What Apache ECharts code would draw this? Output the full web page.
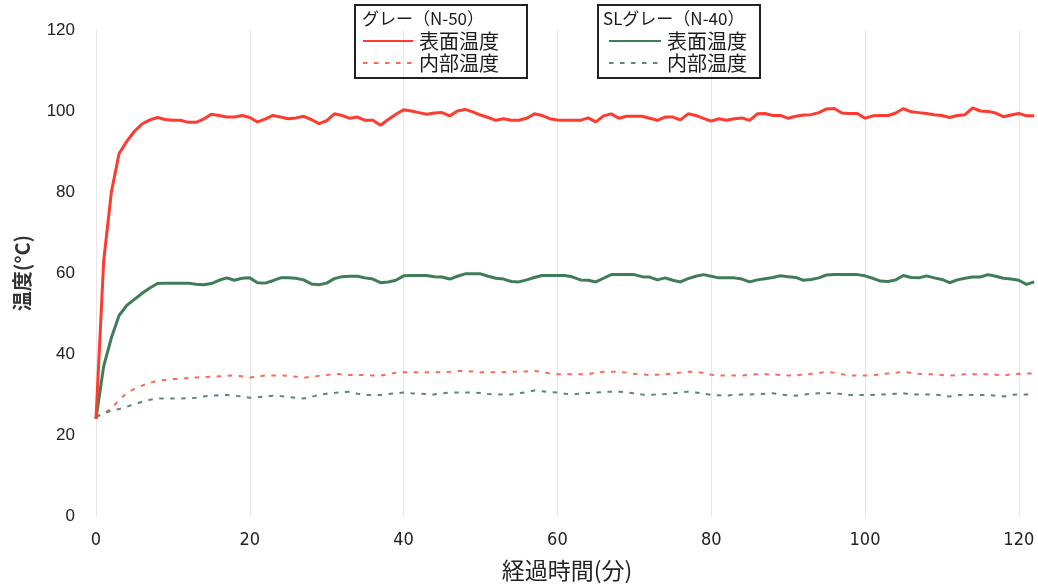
<!DOCTYPE html>
<html>
<head>
<meta charset="utf-8">
<script src="https://cdn.jsdelivr.net/npm/echarts@6/dist/echarts.min.js"></script>
<style>
html,body{margin:0;padding:0;background:#fff;}
#chart{width:1038px;height:586px;}
</style>
</head>
<body>
<div id="chart"></div>
<script>
// Elapsed time (minutes) sampled every minute
const minutes = Array.from({length: 123}, (_, i) => i);

const xTicks = [0, 20, 40, 60, 80, 100, 120];
const yTicks = [0, 20, 40, 60, 80, 100, 120];

// グレー(N-50) 表面温度
const grayN50Surface = [
  24, 63, 80, 89.5, 92.5, 95, 96.8, 97.8, 98.4, 97.9,
  97.7, 97.7, 97.2, 97.2, 98.0, 99.2, 98.9, 98.5, 98.5, 98.9,
  98.4, 97.3, 98.0, 98.9, 98.5, 98.1, 98.3, 98.7, 97.9, 96.9,
  97.6, 99.3, 98.9, 98.2, 98.5, 97.7, 97.7, 96.5, 97.9, 99.2,
  100.3, 100.0, 99.6, 99.2, 99.5, 99.6, 98.8, 100.0, 100.4, 99.8,
  99.0, 98.4, 97.7, 98.1, 97.7, 97.7, 98.2, 99.3, 98.9, 98.1,
  97.8, 97.7, 97.7, 97.7, 98.3, 97.3, 98.8, 99.3, 98.2, 98.7,
  98.7, 98.7, 98.2, 97.7, 98.5, 98.5, 97.8, 99.3, 98.9, 98.2,
  97.5, 98.1, 97.7, 98.1, 98.3, 97.7, 99.3, 99.4, 98.9, 98.9,
  98.2, 98.7, 99.0, 99.1, 99.6, 100.5, 100.6, 99.5, 99.4, 99.4,
  98.2, 98.8, 98.9, 98.9, 99.5, 100.6, 99.8, 99.6, 99.4, 99.1,
  98.9, 98.4, 98.9, 99.1, 100.8, 100.0, 99.9, 99.5, 98.6, 99.0,
  99.4, 98.8, 98.8
];

// グレー(N-50) 内部温度
const grayN50Inner = [
  24.5, 25.3, 26.5, 28.7, 30.3, 31.4, 32.2, 32.9, 33.4, 33.6,
  33.8, 33.9, 34.1, 34.2, 34.3, 34.4, 34.5, 34.6, 34.7, 34.5,
  34.2, 34.4, 34.7, 34.7, 34.7, 34.6, 34.4, 34.2, 34.3, 34.6,
  34.8, 35.1, 35.0, 34.8, 34.8, 34.8, 34.7, 34.7, 35.0, 35.4,
  35.5, 35.5, 35.5, 35.5, 35.5, 35.5, 35.6, 35.8, 35.8, 35.7,
  35.5, 35.5, 35.5, 35.5, 35.6, 35.6, 35.7, 35.8, 35.6, 35.2,
  35.0, 35.0, 35.0, 35.0, 35.0, 35.4, 35.6, 35.6, 35.6, 35.4,
  35.1, 35.0, 34.8, 34.9, 35.0, 35.2, 35.4, 35.6, 35.6, 35.3,
  34.9, 34.7, 34.7, 34.7, 34.7, 34.9, 35.0, 35.0, 35.0, 34.8,
  34.7, 34.8, 34.9, 35.1, 35.3, 35.6, 35.4, 35.0, 34.7, 34.7,
  34.7, 34.7, 35.0, 35.2, 35.4, 35.6, 35.3, 35.1, 35.0, 35.0,
  34.8, 34.7, 34.8, 35.0, 35.0, 35.0, 35.0, 34.9, 34.7, 35.0,
  35.1, 35.2, 35.2
];

// SLグレー(N-40) 表面温度
const slGrayN40Surface = [
  24, 37, 44, 49.5, 52, 53.5, 55, 56.3, 57.4, 57.5,
  57.5, 57.5, 57.5, 57.2, 57.1, 57.4, 58.2, 58.8, 58.2, 58.7,
  58.8, 57.6, 57.5, 58.1, 58.8, 58.8, 58.7, 58.3, 57.3, 57.1,
  57.5, 58.6, 59.1, 59.2, 59.2, 58.8, 58.5, 57.6, 57.8, 58.2,
  59.3, 59.4, 59.4, 59.4, 59.1, 59.0, 58.5, 59.2, 59.8, 59.8,
  59.8, 59.2, 58.7, 58.5, 57.9, 57.8, 58.3, 58.9, 59.4, 59.4,
  59.4, 59.4, 59.0, 58.3, 58.2, 57.8, 58.7, 59.6, 59.6, 59.6,
  59.6, 59.1, 59.0, 58.3, 58.8, 58.2, 57.8, 58.6, 59.2, 59.6,
  59.2, 58.8, 58.8, 58.8, 58.5, 57.8, 58.3, 58.6, 58.9, 59.3,
  59.1, 58.9, 58.2, 58.4, 58.8, 59.5, 59.6, 59.6, 59.6, 59.6,
  59.3, 58.7, 58.0, 57.9, 58.3, 59.4, 58.9, 58.8, 59.3, 58.8,
  58.4, 57.6, 58.3, 58.7, 59.0, 59.0, 59.6, 59.2, 58.7, 58.5,
  58.2, 57.2, 57.8
];

// SLグレー(N-40) 内部温度
const slGrayN40Inner = [
  24.5, 25.3, 26.0, 26.4, 27.0, 27.6, 28.2, 28.7, 29.0, 29.0,
  29.0, 29.0, 29.1, 29.2, 29.5, 29.7, 29.8, 29.9, 29.7, 29.5,
  29.2, 29.3, 29.5, 29.7, 29.6, 29.4, 29.2, 29.0, 29.4, 29.9,
  30.2, 30.4, 30.6, 30.7, 30.2, 29.9, 29.9, 29.9, 30.1, 30.3,
  30.5, 30.3, 30.2, 30.1, 30.0, 30.3, 30.5, 30.5, 30.5, 30.5,
  30.4, 30.1, 30.0, 30.0, 30.0, 30.3, 30.6, 31.0, 30.8, 30.6,
  30.5, 30.2, 30.0, 30.2, 30.4, 30.5, 30.6, 30.7, 30.7, 30.5,
  30.3, 30.0, 29.9, 30.0, 30.1, 30.3, 30.5, 30.7, 30.5, 30.2,
  29.9, 29.8, 29.7, 29.9, 30.0, 30.0, 30.1, 30.2, 30.3, 30.0,
  29.8, 29.7, 30.0, 30.2, 30.3, 30.3, 30.3, 30.1, 29.9, 29.9,
  29.9, 29.9, 30.0, 30.0, 30.2, 30.3, 30.0, 30.0, 30.0, 30.0,
  29.8, 29.5, 29.9, 29.9, 29.9, 29.9, 29.9, 29.7, 29.5, 29.9,
  30.0, 30.0, 30.0
];

const legendTitles = ['グレー（N-50）', 'SLグレー（N-40）'];
const seriesLabels = {'N50表面': '表面温度', 'N50内部': '内部温度', 'N40表面': '表面温度', 'N40内部': '内部温度'};
const xAxisName = '経過時間(分)';
const yAxisName = '温度(°C)';

function pairs(vals) { return vals.map((v, i) => [minutes[i], v]); }

const chart = echarts.init(document.getElementById('chart'), null, {renderer: 'canvas'});

const RED = '#ff3b30', RED_D = '#fb6a55', GREEN = '#3f7d59', GREEN_D = '#5f8676';
const CJK = '"Noto Sans CJK JP", sans-serif';

const legendCommon = {
  orient: 'vertical', top: 26, itemHeight: 14, itemGap: 2, selectedMode: false,
  formatter: n => seriesLabels[n],
  itemStyle: {opacity: 0, borderWidth: 0},
  textStyle: {fontSize: 20, lineHeight: 20, color: '#1a1a1a', fontFamily: CJK, padding: [0, 0, 0, 1]}
};

const option = {
  animation: false,
  backgroundColor: '#ffffff',
  grid: {left: 96, right: 0, top: 30, bottom: 70, containLabel: false, outerBoundsMode: 'none'},
  xAxis: {
    type: 'value', min: 0, max: 122.5, interval: 20,
    name: xAxisName, nameLocation: 'middle', nameGap: 43,
    nameTextStyle: {fontSize: 23, color: '#222', fontFamily: CJK},
    axisLine: {show: false}, axisTick: {show: false},
    axisLabel: {
      fontSize: 18, color: '#222', margin: 15, showMaxLabel: false,
      fontFamily: '"Liberation Sans Narrow", "DejaVu Sans Condensed", sans-serif',
      formatter: v => (xTicks.indexOf(v) >= 0 ? String(v) : '')
    },
    splitLine: {show: true, lineStyle: {color: '#e6e6e6', width: 1}}
  },
  yAxis: {
    type: 'value', min: 0, max: 120, interval: 20,
    name: yAxisName, nameLocation: 'middle', nameGap: 64,
    nameTextStyle: {fontSize: 20, color: '#333', fontWeight: 'bold', fontFamily: CJK},
    axisLine: {show: false}, axisTick: {show: false},
    axisLabel: {
      fontSize: 17, color: '#222', margin: 21,
      fontFamily: '"Liberation Sans", Arial, sans-serif',
      formatter: v => (yTicks.indexOf(v) >= 0 ? String(v) : '')
    },
    splitLine: {show: false}
  },
  legend: [
    Object.assign({data: ['N50表面', 'N50内部'], left: 357, itemWidth: 50}, legendCommon),
    Object.assign({data: ['N40表面', 'N40内部'], left: 603, itemWidth: 52}, legendCommon)
  ],
  graphic: [
    {type: 'rect', shape: {x: 355, y: 5, width: 172, height: 73}, style: {fill: 'none', stroke: '#222', lineWidth: 2}, z: 10},
    {type: 'rect', shape: {x: 598, y: 5, width: 162, height: 73}, style: {fill: 'none', stroke: '#222', lineWidth: 2}, z: 10},
    {type: 'text', left: 362, top: 10, style: {text: legendTitles[0], fontSize: 17, fill: '#1a1a1a', fontFamily: CJK}, z: 10},
    {type: 'text', left: 603, top: 10, style: {text: legendTitles[1], fontSize: 17, fill: '#1a1a1a', fontFamily: CJK}, z: 10}
  ],
  series: [
    {name: 'N50内部', type: 'line', data: pairs(grayN50Inner), symbol: 'none', showSymbol: false, z: 2,
     lineStyle: {color: RED_D, width: 2, type: [4.5, 6.5]}, itemStyle: {color: RED_D}},
    {name: 'N40内部', type: 'line', data: pairs(slGrayN40Inner), symbol: 'none', showSymbol: false, z: 2,
     lineStyle: {color: GREEN_D, width: 2, type: [4.5, 6.5]}, itemStyle: {color: GREEN_D}},
    {name: 'N40表面', type: 'line', data: pairs(slGrayN40Surface), symbol: 'none', showSymbol: false, z: 3,
     lineStyle: {color: GREEN, width: 3}, itemStyle: {color: GREEN}},
    {name: 'N50表面', type: 'line', data: pairs(grayN50Surface), symbol: 'none', showSymbol: false, z: 4,
     lineStyle: {color: RED, width: 3}, itemStyle: {color: RED}}
  ]
};
chart.setOption(option);
</script>
</body>
</html>
